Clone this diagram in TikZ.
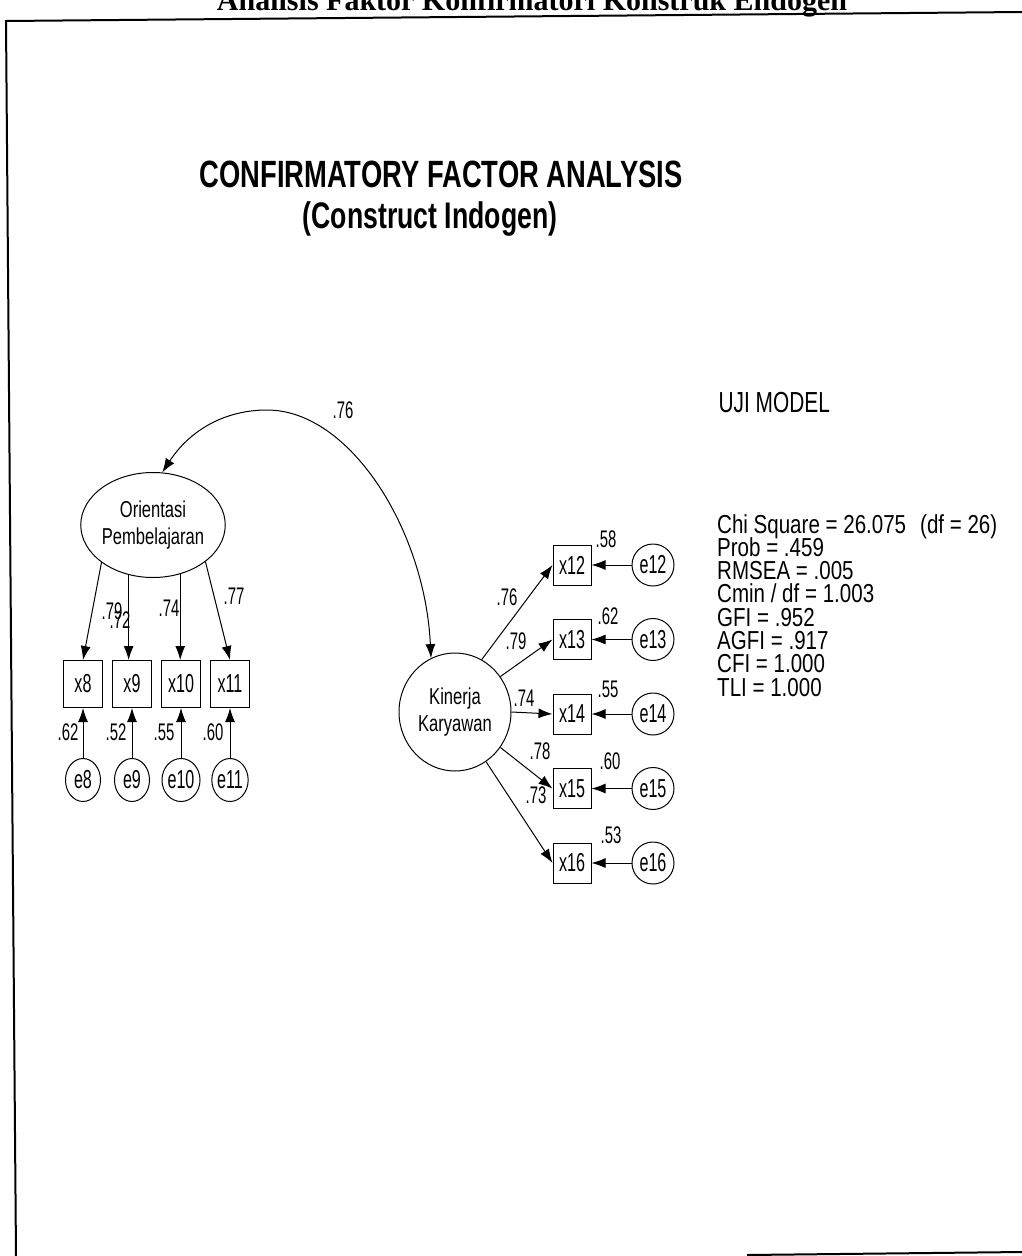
\documentclass[tikz,border=0pt]{standalone}
\usepackage{fontspec}
\setmainfont{Liberation Sans}[FakeStretch=0.72]
\newfontfamily\tagfont{Liberation Sans}[FakeStretch=0.62]
\newfontfamily\fitfont{Liberation Sans}[FakeStretch=0.79]
\newfontfamily\headfont{Liberation Serif}
\newcommand\fitsize{\fitfont\fontsize{26}{23.3}\selectfont\lineskiplimit=-50pt\relax}
\usetikzlibrary{arrows.meta, positioning, shapes.geometric}

\begin{document}
\begin{tikzpicture}[
  x=1pt, y=-1pt,
  node distance=9pt and 9pt,
  obs/.style={draw, line width=1pt, minimum width=39pt, minimum height=47pt,
              inner sep=0pt, font=\tagfont\fontsize{26}{26}\selectfont},
  obsr/.style={obs, minimum width=38pt, minimum height=40pt},
  err/.style={draw, ellipse, line width=1pt, minimum width=35pt,
              minimum height=43pt, inner sep=0pt, font=\tagfont\fontsize{26}{26}\selectfont},
  errr/.style={err, minimum width=42pt, minimum height=42pt},
  latent/.style={draw, ellipse, line width=1pt, inner sep=0pt, align=center,
                 font=\fontsize{23}{27}\selectfont},
  coef/.style={inner sep=0pt, font=\tagfont\fontsize{24}{24}\selectfont},
  arr/.style={-{Latex[length=14pt,width=10pt]}, line width=1pt},
  covarr/.style={{Latex[length=14pt,width=10pt]}-{Latex[length=14pt,width=10pt]}, line width=1pt}
]
\useasboundingbox (0,0) rectangle (1022,1256);

% scanned page frame and cut-off heading
\node[font=\headfont\bfseries\fontsize{30}{30}\selectfont, anchor=base] (head) at (532,10)
    {Analisis Faktor Konfirmatori Konstruk Endogen};
\draw[line width=2pt] (1022,12) -- (6,21) -- (16,1256);
\draw[line width=2pt] (747,1255) -- (1022,1252);

\node[font=\bfseries\fontsize{38}{38}\selectfont, anchor=base] (title) at (441,187)
    {CONFIRMATORY FACTOR ANALYSIS};
\node[font=\bfseries\fontsize{37}{37}\selectfont, anchor=base] (subtitle) at (430,228)
    {(Construct Indogen)};

% latent constructs
\node[latent, minimum width=140pt, minimum height=105pt] (OP) at (153,525)
    {Orientasi\\Pembelajaran};
\node[latent, minimum width=112pt, minimum height=118pt] (KK) at (455,712)
    {Kinerja\\Karyawan};

% indicators of Orientasi Pembelajaran
\node[obs] (x8) at (83,684) {x8};
\node[obs, right=of x8]  (x9)  {x9};
\node[obs, right=of x9]  (x10) {x10};
\node[obs, right=of x10] (x11) {x11};
\node[err, below=50pt of x8]  (e8)  {e8};
\node[err, below=50pt of x9]  (e9)  {e9};
\node[err, below=50pt of x10] (e10) {e10};
\node[err, below=50pt of x11] (e11) {e11};

% indicators of Kinerja Karyawan
\node[obsr] (x12) at (572,565) {x12};
\node[obsr, below=33.5pt of x12] (x13) {x13};
\node[obsr, below=33.5pt of x13] (x14) {x14};
\node[obsr, below=33.5pt of x14] (x15) {x15};
\node[obsr, below=33.5pt of x15] (x16) {x16};
\node[errr, right=40pt of x12] (e12) {e12};
\node[errr, right=40pt of x13] (e13) {e13};
\node[errr, right=40pt of x14] (e14) {e14};
\node[errr, right=40pt of x15] (e15) {e15};
\node[errr, right=40pt of x16] (e16) {e16};

% loadings
\draw[arr] (OP.216) -- (x8.north);
\draw[arr] (OP.244) -- (OP.244 |- x9.north);
\draw[arr] (OP.299) -- (OP.299 |- x10.north);
\draw[arr] (OP.325) -- (x11.north);
\draw[arr] (KK.63)  -- (x12.west);
\draw[arr] (KK.38)  -- (x13.west);
\draw[arr] (KK.east) -- (x14.west);
\draw[arr] (KK.322) -- (x15.west);
\draw[arr] (KK.302) -- (x16.west);

% error terms
\draw[arr] (e8)  -- (x8);
\draw[arr] (e9)  -- (x9);
\draw[arr] (e10) -- (x10);
\draw[arr] (e11) -- (x11);
\draw[arr] (e12) -- (x12);
\draw[arr] (e13) -- (x13);
\draw[arr] (e14) -- (x14);
\draw[arr] (e15) -- (x15);
\draw[arr] (e16) -- (x16);

% correlation between constructs
\coordinate (arctop) at (267,410);
\draw[covarr] (KK.114) .. controls (425,530) and (350,410) .. (arctop)
                       .. controls (225,410) and (190,430) .. (OP.80);
\node[coef] (r1) at (343,410) {.76};

% estimates
\node[coef] (c8)  at (112,611) {.79};
\node[coef] (c9)  at (120,620) {.72};
\node[coef] (c10) at (169,608) {.74};
\node[coef] (c11) at (234,596) {.77};
\node[coef] (v8)  at (68,732)  {.62};
\node[coef] (v9)  at (116,732) {.52};
\node[coef] (v10) at (164,732) {.55};
\node[coef] (v11) at (213,732) {.60};
\node[coef] (c12) at (507,597) {.76};
\node[coef] (c13) at (516,641) {.79};
\node[coef] (c14) at (524,698) {.74};
\node[coef] (c15) at (540,751) {.78};
\node[coef] (c16) at (536,795) {.73};
\node[coef] (v12) at (606,539) {.58};
\node[coef] (v13) at (608,616) {.62};
\node[coef] (v14) at (608,689) {.55};
\node[coef] (v15) at (610,761) {.60};
\node[coef] (v16) at (611,835) {.53};

% model fit
\node[anchor=base west, font=\fontsize{29}{29}\selectfont] (uji) at (715,412) {UJI MODEL};
\node[anchor=north west, inner sep=0pt, align=left, font=\fitsize] (fit) at (717,514)
    {Chi Square = 26.075\hspace{14pt}(df = 26)\\ Prob = .459\\ RMSEA = .005\\ Cmin / df = 1.003\\
     GFI = .952\\ AGFI = .917\\ CFI = 1.000\\ TLI = 1.000};
\end{tikzpicture}
\end{document}
